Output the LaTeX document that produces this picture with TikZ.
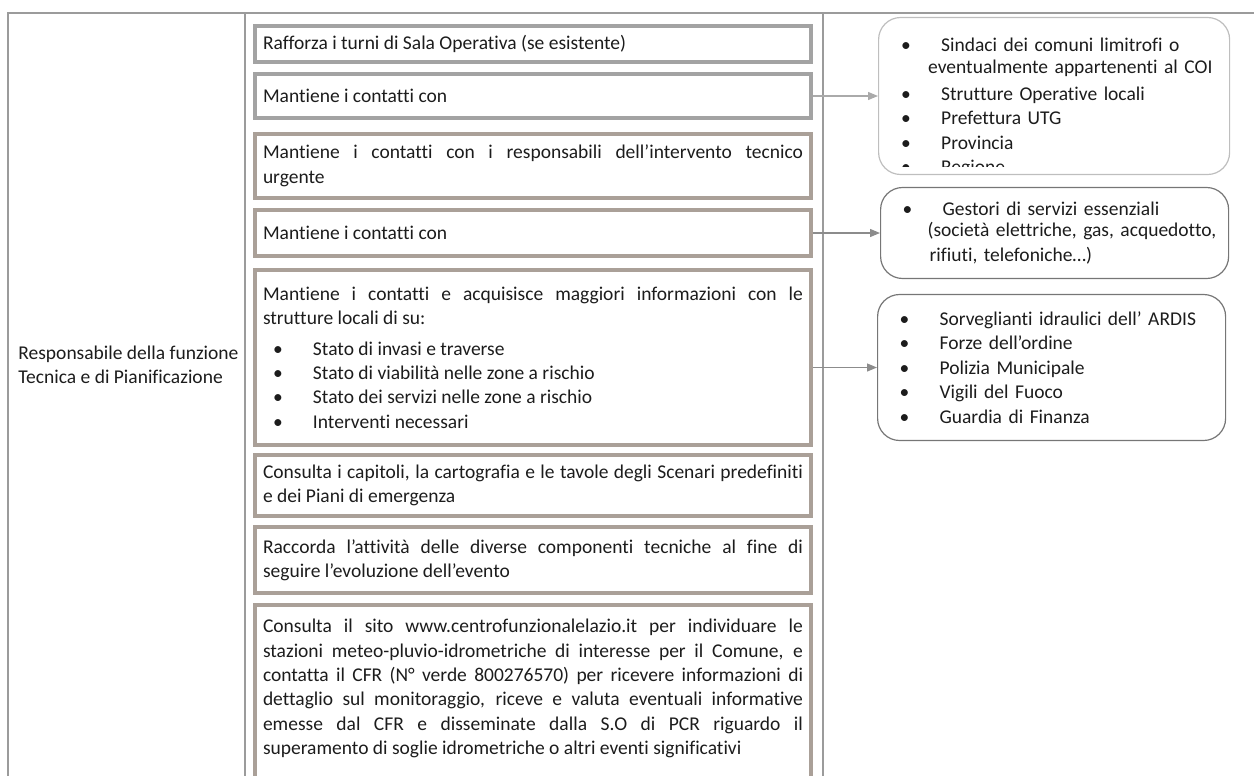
\documentclass[tikz,border=0pt]{standalone}
\usepackage{fontspec}
\setmainfont{Carlito}[Ligatures=NoCommon]
\usetikzlibrary{positioning,arrows.meta}
\definecolor{lineatab}{RGB}{155,155,155}
\definecolor{bordogrigio}{RGB}{163,163,163}
\definecolor{bordobruno}{RGB}{170,160,152}
\definecolor{bordochiaro}{RGB}{190,190,190}
\definecolor{bordoscuro}{RGB}{118,118,118}
\definecolor{frecciachiara}{RGB}{170,170,170}
\definecolor{frecciascura}{RGB}{140,140,140}
\definecolor{inchiostro}{RGB}{28,28,28}
\newcommand{\testofont}{\fontsize{9.75pt}{12.2pt}\selectfont}
\newcommand{\voce}[1]{\hspace*{#1}\makebox[20pt][l]{\textbullet}}

\begin{document}
\begin{tikzpicture}[x=0.5pt, y=-0.5pt, node distance=4pt,
    every node/.style={text=inchiostro, font=\testofont},
    tabella/.style={draw=lineatab, line width=0.8pt},
    azione/.style={draw=bordobruno, line width=2.2pt, text width=270pt,
      inner xsep=3.9pt, inner ysep=0pt, align=justify},
    elenco/.style={draw=bordoscuro, line width=0.6pt, rounded corners=11pt,
      text width=174pt, inner xsep=0pt, inner ysep=0pt, align=left},
    collega/.style={draw=frecciascura, line width=0.6pt, -{Triangle[length=5pt,width=4pt]}}]
  \useasboundingbox (0,0) rectangle (1254,776);
  % griglia della tabella
  \draw[tabella] (8,776) -- (8,13) -- (1254,13);
  \draw[tabella] (245,13) -- (245,776);
  \draw[tabella] (823,13) -- (823,776);
  \node[anchor=west, align=left, inner sep=0pt] (funzione) at (18,365)
    {Responsabile della funzione\\Tecnica e di Pianificazione};
  % colonna delle azioni
  \node[azione, draw=bordogrigio, anchor=north, minimum height=17.8pt] (rafforza) at (533,24)
    {Rafforza i turni di Sala Operativa (se esistente)};
  \node[azione, draw=bordogrigio, below=of rafforza, minimum height=21.8pt] (contatti)
    {Mantiene i contatti con};
  \node[azione, below=6pt of contatti, minimum height=31.8pt] (responsabili)
    {Mantiene i contatti con i responsabili dell’intervento tecnico\linebreak urgente};
  \node[azione, below=of responsabili, minimum height=22.8pt] (servizi)
    {Mantiene i contatti con};
  \node[azione, below=5pt of servizi, minimum height=87.3pt] (strutture)
    {Mantiene i contatti e acquisisce maggiori informazioni con le\linebreak strutture locali di su:\\[3pt]
     \voce{5pt}Stato di invasi e traverse\\
     \voce{5pt}Stato di viabilità nelle zone a rischio\\
     \voce{5pt}Stato dei servizi nelle zone a rischio\\
     \voce{5pt}Interventi necessari};
  \node[azione, below=3pt of strutture, minimum height=30.3pt] (capitoli)
    {Consulta i capitoli, la cartografia e le tavole degli Scenari predefiniti\linebreak e dei Piani di emergenza};
  \node[azione, below=3.5pt of capitoli, minimum height=32.8pt] (raccorda)
    {Raccorda l’attività delle diverse componenti tecniche al fine di\linebreak seguire l’evoluzione dell’evento};
  \node[azione, below=of raccorda, inner ysep=7pt] (sito)
    {Consulta il sito www.centrofunzionalelazio.it per individuare le\linebreak
     stazioni meteo-pluvio-idrometriche di interesse per il Comune, e\linebreak
     contatta il CFR (N° verde 800276570) per ricevere informazioni di\linebreak
     dettaglio sul monitoraggio, riceve e valuta eventuali informative\linebreak
     emesse dal CFR e disseminate dalla S.O di PCR riguardo il\linebreak
     superamento di soglie idrometriche o altri eventi significativi\\[30pt]\mbox{}};
  % riquadri dei contatti
  \node[elenco, draw=bordochiaro, text width=175.5pt, minimum height=78.5pt, right=32.5pt of contatti,
    path picture={
      \clip (path picture bounding box.north west) rectangle ([yshift=4pt]path picture bounding box.south east);
      \node[anchor=north west, inner sep=0pt, text width=175.5pt, align=left] (sindacitesto)
        at ([yshift=-5.5pt]path picture bounding box.north west)
        {\voce{11pt}Sindaci dei comuni limitrofi o\\[-1.5pt]
         \hspace*{24.5pt}eventualmente appartenenti al COI\\[1.5pt]
         \voce{11pt}Strutture Operative locali\\
         \voce{11pt}Prefettura UTG\\
         \voce{11pt}Provincia\\
         \voce{11pt}Regione};}] (sindaci) {};
  \node[elenco, minimum height=45.5pt, right=33.5pt of servizi] (gestori)
    {\voce{11pt}Gestori di servizi essenziali\\[-1.5pt]
     \hspace*{23.5pt}(società elettriche, gas, acquedotto,\\
     \hspace*{24.5pt}rifiuti, telefoniche…)};
  \node[elenco, minimum height=73pt, right=32pt of strutture, yshift=-5pt] (sorveglianti)
    {\voce{11pt}Sorveglianti idraulici dell’ ARDIS\\
     \voce{11pt}Forze dell’ordine\\
     \voce{11pt}Polizia Municipale\\
     \voce{11pt}Vigili del Fuoco\\
     \voce{11pt}Guardia di Finanza};
  % frecce
  \draw[collega, draw=frecciachiara] (contatti.east) -- (sindaci.west);
  \draw[collega] (servizi.east) -- (gestori.west);
  \draw[collega] (strutture.east |- sorveglianti.west) -- (sorveglianti.west);
\end{tikzpicture}
\end{document}
